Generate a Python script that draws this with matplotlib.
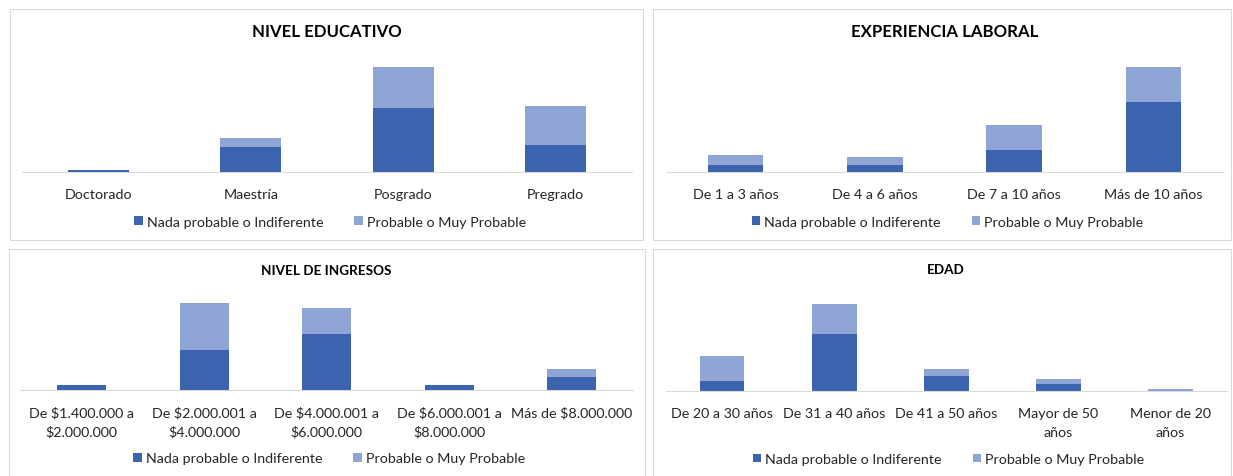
import matplotlib
matplotlib.use('Agg')
import matplotlib.pyplot as plt
from matplotlib.patches import Rectangle, Patch
from matplotlib.font_manager import FontProperties

plt.rcParams['text.parse_math'] = False

# ---------------- data ----------------
series_labels = ['Nada probable o Indiferente', 'Probable o Muy Probable']

edu_title = 'NIVEL EDUCATIVO'
edu_cats = ['Doctorado', 'Maestría', 'Posgrado', 'Pregrado']
edu_nada = [1, 11, 28, 12]
edu_prob = [0, 4, 18, 17]

exp_title = 'EXPERIENCIA LABORAL'
exp_cats = ['De 1 a 3 años', 'De 4 a 6 años', 'De 7 a 10 años', 'Más de 10 años']
exp_nada = [3, 3, 9, 28]
exp_prob = [4, 3, 10, 14]

ing_title = 'NIVEL DE INGRESOS'
ing_cats = ['De $1.400.000 a\n$2.000.000', 'De $2.000.001 a\n$4.000.000',
            'De $4.000.001 a\n$6.000.000', 'De $6.000.001 a\n$8.000.000',
            'Más de $8.000.000']
ing_nada = [2, 15, 21, 2, 5]
ing_prob = [0, 18, 10, 0, 3]

edad_title = 'EDAD'
edad_cats = ['De 20 a 30 años', 'De 31 a 40 años', 'De 41 a 50 años',
             'Mayor de 50\naños', 'Menor de 20\naños']
edad_nada = [4, 23, 6, 3, 0]
edad_prob = [10, 12, 3, 2, 1]

# ---------------- style ----------------
W, H, DPI = 1233, 477, 100
FONT = 'Lato'
DARK = '#3C64AE'
LIGHT = '#8FA5D6'
TXT = '#262626'
GRID = '#D9D9D9'

fig = plt.figure(figsize=(W / DPI, H / DPI), dpi=DPI)
fig.patch.set_facecolor('white')
renderer = fig.canvas.get_renderer()


def fit_size(text, target_px, weight='normal'):
    t = fig.text(0, 0, text, fontsize=20, fontfamily=FONT, fontweight=weight)
    w = t.get_window_extent(renderer=renderer).width
    t.remove()
    return 20 * target_px / w


body_fs = fit_size('Nada probable o Indiferente', 177)
big_title_fs = fit_size('NIVEL EDUCATIVO', 150, 'bold')
small_title_fs = fit_size('NIVEL DE INGRESOS', 130, 'bold')
body_px = body_fs * DPI / 72.0

fp = FontProperties(family=FONT, size=body_fs)
_, lp_h, lp_d = renderer.get_text_width_height_descent('lp', fp, ismath=False)
lp_asc = lp_h - lp_d
label_baseline_px = 25.8
pad_pt = (label_baseline_px - lp_asc) * 72.0 / DPI
line_step_px = 18.7
linesp = (line_step_px - lp_d) / lp_asc


def fx(x):
    return x / W


def fy(y):
    return 1 - y / H


panels = [
    dict(cats=edu_cats, nada=edu_nada, prob=edu_prob, title=edu_title,
         x0=22.3, x1=631.7, base=173.3, top=60, ymax=49.3,
         tcx=327, tby=36.7, tfs=big_title_fs, leg=(330, 222.7),
         box=(10, 9.5, 643.5, 240.7)),
    dict(cats=exp_cats, nada=exp_nada, prob=exp_prob, title=exp_title,
         x0=665.8, x1=1223.2, base=173.3, top=60, ymax=45.3,
         tcx=945, tby=37.0, tfs=big_title_fs, leg=(947.7, 222.7),
         box=(653, 9.5, 1231, 240.7)),
    dict(cats=ing_cats, nada=ing_nada, prob=ing_prob, title=ing_title,
         x0=20.4, x1=633, base=391, top=290, ymax=38.1,
         tcx=326, tby=275, tfs=small_title_fs, leg=(329.2, 459.3),
         box=(9, 250, 645, 490)),
    dict(cats=edad_cats, nada=edad_nada, prob=edad_prob, title=edad_title,
         x0=666, x1=1226.5, base=392.3, top=290, ymax=40.9,
         tcx=946, tby=274.5, tfs=small_title_fs, leg=(948.7, 460),
         box=(653, 250, 1231, 490)),
]

hl = 8.5 / body_px
hh = (hl - 0.245) / 0.65

for p in panels:
    bx0, by0, bx1, by1 = p['box']
    fig.add_artist(Rectangle((fx(bx0), fy(by1)), fx(bx1 - bx0), (by1 - by0) / H,
                             transform=fig.transFigure, fill=False,
                             edgecolor=GRID, linewidth=0.75))

    ax = fig.add_axes([fx(p['x0']), fy(p['base']),
                       fx(p['x1'] - p['x0']), (p['base'] - p['top']) / H])
    n = len(p['cats'])
    xs = list(range(n))
    ax.bar(xs, p['nada'], width=0.4, color=DARK, linewidth=0,
           label=series_labels[0])
    ax.bar(xs, p['prob'], width=0.4, bottom=p['nada'], color=LIGHT,
           linewidth=0, label=series_labels[1])
    ax.set_xlim(-0.5, n - 0.5)
    ax.set_ylim(0, p['ymax'])
    for s in ['top', 'left', 'right']:
        ax.spines[s].set_visible(False)
    ax.spines['bottom'].set_color(GRID)
    ax.spines['bottom'].set_linewidth(0.75)
    ax.set_yticks([])
    ax.set_xticks(xs, p['cats'])
    ax.tick_params(axis='x', length=0, pad=pad_pt, labelsize=body_fs,
                   labelcolor=TXT)
    for lab in ax.get_xticklabels():
        lab.set_fontfamily(FONT)
        lab.set_linespacing(linesp)
    ax.patch.set_alpha(0)

    fig.text(fx(p['tcx']), fy(p['tby']), p['title'], ha='center',
             va='baseline', fontsize=p['tfs'], fontweight='bold',
             fontfamily=FONT, color='black')

    handles = [Patch(facecolor=DARK, label=series_labels[0]),
               Patch(facecolor=LIGHT, label=series_labels[1])]
    lx, ly = p['leg']
    leg = ax.legend(handles=handles, loc='center',
                    bbox_to_anchor=(fx(lx), fy(ly)),
                    bbox_transform=fig.transFigure, ncol=2, frameon=False,
                    prop=FontProperties(family=FONT, size=body_fs),
                    handlelength=hl, handleheight=hh,
                    handletextpad=4.0 / body_px, columnspacing=31.0 / body_px,
                    borderpad=0, borderaxespad=0)
    for t in leg.get_texts():
        t.set_color(TXT)

fig.savefig('out.png', dpi=DPI, facecolor='white')
